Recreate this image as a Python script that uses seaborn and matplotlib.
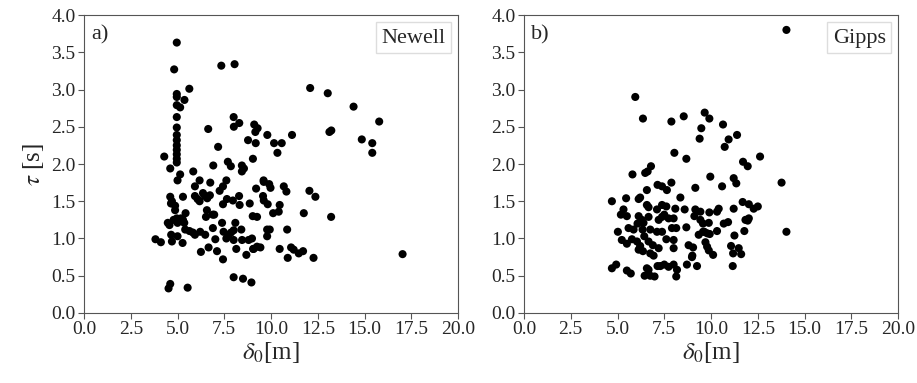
import matplotlib.pyplot as plt
import numpy as np
import pandas as pd
import seaborn as sns

# values
newell_x = [4.96, 4.82, 7.34, 8.05, 5.63, 4.96, 4.96, 5.37, 4.96, 5.14, 4.96, 4.96, 6.64, 8.0, 8.01, 8.30,
            4.96, 4.96, 4.96, 4.96, 4.96, 4.96, 4.96,
            4.29, 4.61, 5.14, 5.84, 7.17, 6.91, 7.69, 7.85, 8.44, 8.55, 8.44, 9.03, 8.77, 9.18, 9.10, 9.16, 9.28,
            12.09, 13.03, 14.41, 15.78, 13.12, 13.22, 14.85, 15.41, 15.41, 9.80, 10.16, 10.57, 10.34, 11.12, 9.60,
            5.0, 6.18, 5.93, 6.75, 6.73, 7.61, 7.43, 7.25, 9.20,
            4.61, 4.70, 4.65, 4.87, 4.87,
            5.29, 5.93, 6.07, 6.18, 6.36, 6.46, 6.59, 6.57, 6.52, 6.88, 6.96, 7.43, 7.64, 7.96, 8.29, 8.32, 8.86, 9.02, 9.25,
            4.48, 4.57, 4.79, 4.96, 5.0, 5.18, 5.29, 5.43, 5.36, 5.41, 5.64, 5.82, 5.93, 6.21, 6.48, 6.66, 6.25, 6.89,
            7.02, 7.11, 7.38, 7.46, 7.43, 7.61, 7.73, 7.86, 8.0, 8.09, 8.0, 8.14, 8.41, 8.45, 8.68, 8.80, 8.98, 9.04, 9.25,
            3.82, 4.11, 4.66, 4.70, 5.0, 5.27,
            4.52, 4.61, 5.54, 8.0, 8.50, 8.95,
            9.61, 9.90, 9.97, 10.68, 10.82, 12.05, 12.37,
            9.57, 9.61, 9.82, 10.46, 10.41, 10.11, 11.75, 13.21,
            9.79, 9.93, 9.79, 10.86, 9.07, 9.43, 10.46, 11.07, 11.21, 11.48, 11.71, 10.89, 12.27, 17.03]
newell_y = [3.63, 3.27, 3.32, 3.34, 3.01, 2.94, 2.90, 2.86, 2.79, 2.76, 2.63, 2.49, 2.47, 2.63, 2.50, 2.55,
            2.39, 2.32, 2.25, 2.19, 2.13, 2.07, 2.02,
            2.10, 1.94, 1.86, 1.90, 2.23, 1.98, 2.03, 1.97, 1.98, 1.94, 1.90, 2.07, 2.32, 2.28, 2.53, 2.43, 2.48,
            3.02, 2.95, 2.77, 2.57, 2.43, 2.45, 2.33, 2.28, 2.15, 2.39, 2.28, 2.28, 2.15, 2.39, 1.78,
            1.78, 1.78, 1.70, 1.75, 1.58, 1.78, 1.70, 1.64, 1.67,
            1.56, 1.50, 1.47, 1.44, 1.38,
            1.56, 1.57, 1.53, 1.50, 1.61, 1.57, 1.54, 1.38, 1.29, 1.32, 1.32, 1.46, 1.53, 1.51, 1.57, 1.45, 1.47, 1.30, 1.29,
            1.21, 1.18, 1.25, 1.27, 1.21, 1.27, 1.25, 1.34, 1.21, 1.12, 1.10, 1.08, 1.05, 1.09, 1.05, 0.88, 0.82, 1.14,
            0.99, 0.83, 1.21, 1.09, 0.72, 1.00, 1.05, 1.08, 1.11, 1.21, 0.98, 0.86, 1.12, 0.98, 0.78, 0.98, 1.00, 0.86, 0.89,
            0.99, 0.95, 1.05, 0.96, 1.03, 0.94,
            0.33, 0.39, 0.34, 0.48, 0.46, 0.41,
            1.76, 1.73, 1.68, 1.70, 1.63, 1.64, 1.56,
            1.57, 1.51, 1.46, 1.45, 1.36, 1.34, 1.34, 1.29,
            1.12, 1.12, 1.03, 1.12, 0.86, 0.88, 0.86, 0.88, 0.85, 0.80, 0.83, 0.74, 0.74, 0.79]

gipps_x = [5.95, 6.36, 7.88, 8.54, 9.66, 9.91, 9.48, 9.39, 8.04, 8.68, 5.80, 6.48, 6.61, 6.79, 9.96,
           14.03, 10.64, 10.94, 11.39, 10.73, 11.71, 11.96, 12.62, 11.21, 11.35, 10.59, 9.16, 13.77,
           4.70, 5.46, 6.13, 6.21, 6.57, 7.14, 7.38, 7.64, 7.88, 8.36,
           6.57, 6.66, 7.11, 7.38, 7.61, 8.09, 8.59, 5.18, 5.50, 5.32, 6.13, 6.30, 6.66, 6.07, 6.39,
           7.20, 7.38, 7.50, 7.73, 8.0,
           9.16, 9.43, 9.11, 9.43, 9.57, 9.88, 10.32, 10.41, 9.91, 11.21, 11.69, 12.02, 12.28, 12.50,
           11.84, 12.02, 11.96, 10.68, 10.91, 10.32, 11.78, 11.25, 14.03,
           5.02, 5.59, 5.86, 6.34, 6.75, 7.11, 7.38, 7.91, 8.14, 8.68, 9.57, 9.79, 9.34, 9.64, 9.93,
           5.23, 5.50, 5.77, 6.04, 6.21, 6.43, 6.66, 6.89, 7.20, 7.61, 8.0, 8.0, 6.13, 6.36, 6.75, 6.93,
           8.80, 9.04, 9.0, 9.70, 9.79, 9.88, 10.11, 11.07, 11.18, 11.48, 11.61, 11.16, 9.25,
           4.70, 4.93, 5.50, 5.71, 6.57, 6.66, 6.45, 6.75, 6.98, 7.14, 7.29, 7.50, 7.73, 8.0, 8.18, 8.14, 8.71, 8.98]
gipps_y = [2.90, 2.61, 2.57, 2.64, 2.69, 2.61, 2.48, 2.34, 2.15, 2.07, 1.86, 1.88, 1.90, 1.97, 1.83,
           3.80, 2.53, 2.33, 2.39, 2.23, 2.03, 1.97, 2.10, 1.81, 1.74, 1.70, 1.68, 1.75,
           1.50, 1.54, 1.53, 1.55, 1.65, 1.72, 1.70, 1.65, 1.75, 1.55,
           1.45, 1.42, 1.39, 1.45, 1.43, 1.40, 1.39, 1.32, 1.30, 1.39, 1.30, 1.25, 1.29, 1.20, 1.21,
           1.25, 1.29, 1.32, 1.27, 1.27,
           1.39, 1.36, 1.30, 1.25, 1.20, 1.21, 1.36, 1.40, 1.35, 1.40, 1.49, 1.46, 1.40, 1.43,
           1.25, 1.27, 1.24, 1.20, 1.22, 1.10, 1.10, 1.04, 1.09,
           1.09, 1.14, 1.12, 1.12, 1.12, 1.09, 1.09, 1.14, 1.14, 1.15, 1.09, 1.07, 1.05, 1.09, 1.06,
           0.98, 0.93, 0.99, 0.96, 0.90, 1.03, 0.96, 0.91, 0.87, 0.99, 0.98, 0.87, 0.85, 0.83, 0.80, 0.77,
           0.91, 0.88, 0.77, 0.95, 0.89, 0.84, 0.78, 0.90, 0.80, 0.87, 0.79, 0.63, 0.63,
           0.60, 0.65, 0.57, 0.53, 0.60, 0.58, 0.50, 0.50, 0.49, 0.63, 0.63, 0.65, 0.62, 0.65, 0.58, 0.49, 0.65, 0.75]

panels = [("a)", "Newell", newell_x, newell_y), ("b)", "Gipps", gipps_x, gipps_y)]

sns.set_style("ticks")
plt.rcParams['font.family'] = ['Liberation Serif', 'DejaVu Serif']
plt.rcParams['mathtext.fontset'] = 'stix'

fig = plt.figure(figsize=(9.17, 3.83), dpi=100)
axes = [fig.add_axes([0.0916, 0.1828, 0.408, 0.778]),
        fig.add_axes([0.5714, 0.1828, 0.408, 0.778])]

for i, (tag, name, xs, ys) in enumerate(panels):
    ax = axes[i]
    df = pd.DataFrame({'x': xs, 'y': ys})
    sns.scatterplot(ax=ax, data=df, x='x', y='y', color='black', s=34,
                    edgecolor='none', label=name)
    ax.set_xlim(0, 20)
    ax.set_ylim(0, 4)
    ax.set_xticks(np.arange(0, 20.1, 2.5))
    ax.set_yticks(np.arange(0, 4.01, 0.5))
    ax.set_xticklabels([f"{v:.1f}" for v in np.arange(0, 20.1, 2.5)])
    ax.set_yticklabels([f"{v:.1f}" for v in np.arange(0, 4.01, 0.5)])
    ax.tick_params(labelsize=14, color='#555555', length=4, pad=2)
    for sp in ax.spines.values():
        sp.set_visible(True)
        sp.set_color('#555555')
    ax.set_xlabel(r'$\delta_0$[m]', fontsize=18, labelpad=1)
    ax.set_ylabel(r'$\tau$ [s]' if i == 0 else '', fontsize=18)
    ax.text(0.02, 0.965, tag, transform=ax.transAxes, fontsize=16, va='top', ha='left')
    leg = ax.legend(loc='upper right', handlelength=0, handletextpad=0, fontsize=16,
                    borderpad=0.25, borderaxespad=0.3, fancybox=False, framealpha=1,
                    edgecolor='#dddddd')
    for h in leg.legend_handles:
        h.set_visible(False)

fig.savefig('out.png', dpi=100)
